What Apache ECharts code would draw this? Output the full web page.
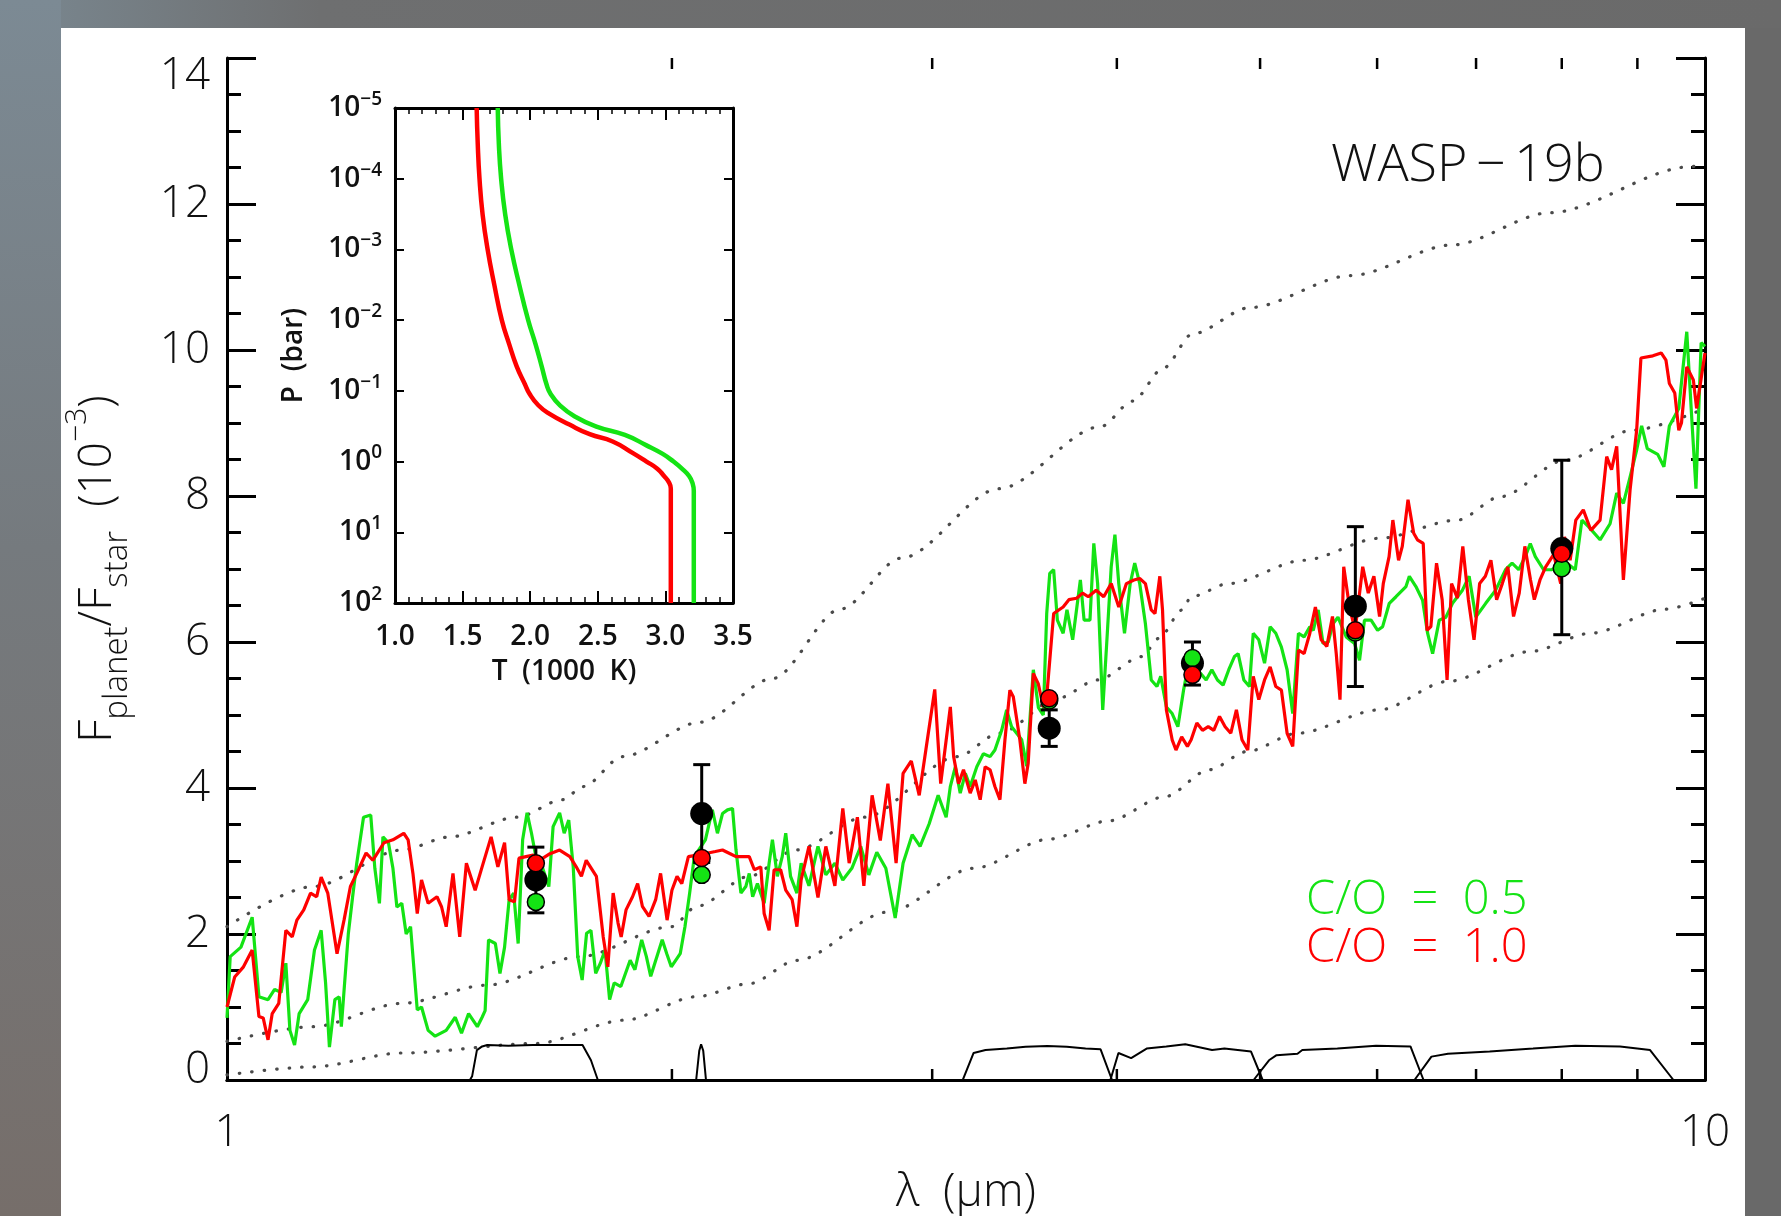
<!DOCTYPE html>
<html>
<head>
<meta charset="utf-8">
<script src="https://cdn.jsdelivr.net/npm/echarts@6/dist/echarts.min.js"></script>
<style>
  html, body { margin: 0; padding: 0; width: 1781px; height: 1216px; overflow: hidden; background: #696969; }
  #topband { position: absolute; left: 0; top: 0; width: 1781px; height: 28px;
    background: linear-gradient(to right, #7a8891 0%, #6e6f70 18%, #6a6a6a 100%); }
  #leftband { position: absolute; left: 0; top: 0; width: 61px; height: 1216px;
    background: linear-gradient(to bottom, #7c8a94 0%, #757a7e 45%, #766e6a 100%); }
  #panel { position: absolute; left: 61px; top: 28px; width: 1684px; height: 1188px; background: #fff; }
  #chart { position: absolute; left: 0; top: 0; width: 1781px; height: 1216px; }
</style>
</head>
<body>
<div id="topband"></div>
<div id="leftband"></div>
<div id="panel"></div>
<div id="chart"></div>
<script>
// ---- data ----
// spectra: [wavelength (um), Fp/Fs (1e-3)]
const greenSpec = [
  [1.000,0.85],[1.005,1.69],[1.022,1.82],[1.040,2.23],[1.051,1.14],[1.066,1.10],[1.077,1.24],[1.088,1.20],
  [1.096,1.60],[1.103,0.68],[1.111,0.48],[1.119,0.91],[1.134,1.10],[1.146,1.78],[1.158,2.05],[1.166,1.33],
  [1.173,0.45],[1.183,1.10],[1.191,1.14],[1.195,0.73],[1.208,2.00],[1.216,2.50],[1.224,2.97],[1.237,3.60],
  [1.251,3.63],[1.259,2.90],[1.268,2.42],[1.275,3.33],[1.286,3.25],[1.295,2.90],[1.303,2.37],[1.313,2.42],
  [1.322,2.00],[1.331,2.10],[1.345,0.96],[1.354,1.00],[1.368,0.68],[1.383,0.60],[1.407,0.68],[1.427,0.86],
  [1.441,0.64],[1.457,0.91],[1.477,0.73],[1.488,0.86],[1.495,0.95],[1.503,1.92],[1.519,1.87],[1.530,1.46],
  [1.541,1.82],[1.552,2.47],[1.563,2.56],[1.574,1.87],[1.585,3.29],[1.596,3.66],[1.607,3.38],[1.620,3.00],
  [1.634,2.92],[1.651,2.65],[1.662,3.47],[1.679,3.66],[1.691,3.38],[1.703,3.56],[1.715,2.92],[1.727,1.69],
  [1.739,1.37],[1.751,2.01],[1.763,2.05],[1.776,1.46],[1.789,1.60],[1.802,1.78],[1.815,1.10],[1.828,1.33],
  [1.847,1.28],[1.874,1.64],[1.888,1.51],[1.908,1.92],[1.922,1.69],[1.935,1.42],[1.970,1.92],[1.984,1.73],
  [1.998,1.55],[2.026,1.73],[2.041,2.10],[2.056,2.56],[2.071,3.06],[2.107,3.29],[2.130,3.70],[2.147,3.38],
  [2.164,3.65],[2.181,3.70],[2.198,3.72],[2.210,3.15],[2.227,2.56],[2.244,2.65],[2.256,2.83],[2.268,2.51],
  [2.285,2.69],[2.309,2.42],[2.327,2.97],[2.339,3.29],[2.357,2.79],[2.375,3.06],[2.388,3.38],[2.406,2.79],
  [2.430,2.56],[2.446,2.97],[2.476,2.66],[2.511,3.20],[2.542,2.81],[2.578,2.97],[2.610,2.74],[2.647,2.90],
  [2.684,3.20],[2.718,2.81],[2.752,3.12],[2.791,2.90],[2.832,2.22],[2.867,2.97],[2.908,3.36],[2.944,3.20],
  [2.986,3.51],[3.028,3.90],[3.066,3.60],[3.086,4.02],[3.110,4.29],[3.134,3.93],[3.159,4.20],[3.183,4.02],
  [3.216,4.29],[3.249,4.47],[3.283,4.43],[3.308,4.52],[3.343,4.79],[3.369,5.07],[3.395,4.84],[3.422,4.75],
  [3.449,4.66],[3.476,4.30],[3.512,5.62],[3.540,5.10],[3.567,5.00],[3.586,6.39],[3.603,6.94],[3.625,6.99],
  [3.646,6.30],[3.679,6.12],[3.701,6.44],[3.734,6.03],[3.779,6.85],[3.801,6.30],[3.836,6.30],[3.859,7.35],
  [3.882,6.80],[3.913,5.07],[3.941,6.12],[3.965,7.03],[3.988,7.47],[4.012,6.80],[4.048,6.12],[4.084,6.80],
  [4.113,7.08],[4.145,6.80],[4.182,6.25],[4.220,5.48],[4.258,5.39],[4.283,5.53],[4.321,5.11],[4.360,5.02],
  [4.399,4.84],[4.438,5.34],[4.477,5.75],[4.517,5.62],[4.557,5.57],[4.597,5.48],[4.638,5.62],[4.679,5.48],
  [4.720,5.41],[4.762,5.62],[4.804,5.80],[4.832,5.84],[4.875,5.48],[4.918,5.39],[4.947,6.12],[4.990,6.03],
  [5.035,5.71],[5.079,6.21],[5.124,6.12],[5.169,5.93],[5.215,5.62],[5.261,5.02],[5.308,6.12],[5.355,6.07],
  [5.403,6.21],[5.432,6.16],[5.474,6.44],[5.515,5.98],[5.560,6.00],[5.601,6.25],[5.645,6.34],[5.718,6.07],
  [5.793,5.98],[5.838,5.75],[5.883,6.30],[5.944,6.30],[6.005,6.16],[6.052,6.21],[6.115,6.53],[6.179,6.62],
  [6.276,6.76],[6.309,6.90],[6.374,6.76],[6.441,6.57],[6.491,6.12],[6.542,5.84],[6.610,6.30],[6.679,6.34],
  [6.748,6.53],[6.853,6.71],[6.925,6.90],[6.997,6.34],[7.106,6.53],[7.217,6.71],[7.329,6.99],[7.404,7.08],
  [7.481,6.99],[7.558,7.17],[7.617,7.35],[7.677,7.17],[7.777,6.99],[7.878,6.99],[8.044,7.10],[8.170,6.99],
  [8.255,7.67],[8.340,7.58],[8.492,7.40],[8.625,7.62],[8.715,8.04],[8.806,7.90],[8.898,8.26],[8.990,8.63],
  [9.060,8.96],[9.140,8.65],[9.290,8.57],[9.380,8.40],[9.460,8.96],[9.600,9.20],[9.720,10.25],[9.800,9.00],
  [9.860,8.10],[9.940,10.10],[10.00,10.05]
]
const redSpec = [
  [1.000,1.00],[1.012,1.41],[1.026,1.55],[1.040,1.78],[1.051,0.87],[1.058,0.85],[1.066,0.55],[1.073,0.91],
  [1.084,1.05],[1.096,2.05],[1.107,1.96],[1.115,2.19],[1.127,2.33],[1.139,2.56],[1.150,2.51],[1.158,2.78],
  [1.170,2.56],[1.187,1.73],[1.200,2.19],[1.212,2.65],[1.224,2.83],[1.242,3.11],[1.255,3.01],[1.277,3.25],
  [1.295,3.29],[1.317,3.38],[1.326,3.29],[1.336,2.83],[1.345,2.28],[1.354,2.74],[1.368,2.42],[1.387,2.51],
  [1.397,2.37],[1.407,2.10],[1.422,2.83],[1.437,1.96],[1.452,2.97],[1.472,2.60],[1.488,2.92],[1.509,3.33],
  [1.525,2.92],[1.541,3.25],[1.552,2.47],[1.565,2.44],[1.576,3.04],[1.611,3.08],[1.630,3.02],[1.654,3.10],
  [1.679,3.15],[1.706,3.06],[1.723,2.92],[1.737,2.79],[1.750,3.01],[1.778,2.79],[1.797,1.96],[1.810,1.55],
  [1.825,2.56],[1.839,2.15],[1.848,1.96],[1.862,2.33],[1.881,2.51],[1.896,2.69],[1.910,2.38],[1.930,2.24],
  [1.950,2.47],[1.965,2.83],[1.985,2.19],[2.000,2.60],[2.016,2.79],[2.031,2.69],[2.052,3.06],[2.080,3.08],
  [2.116,3.11],[2.140,3.13],[2.164,3.15],[2.190,3.10],[2.210,3.06],[2.256,3.06],[2.274,2.88],[2.297,2.92],
  [2.309,2.28],[2.327,2.05],[2.345,2.88],[2.369,2.88],[2.388,2.60],[2.412,2.47],[2.430,2.10],[2.446,2.74],
  [2.476,3.20],[2.511,2.50],[2.542,3.20],[2.578,2.66],[2.610,3.72],[2.636,2.97],[2.670,3.60],[2.697,2.66],
  [2.732,3.90],[2.767,3.28],[2.800,4.06],[2.836,2.97],[2.867,4.20],[2.904,4.37],[2.940,3.90],[2.971,4.53],
  [3.012,5.35],[3.040,4.06],[3.086,5.11],[3.102,4.43],[3.126,4.06],[3.150,4.25],[3.183,3.93],[3.208,4.11],
  [3.233,3.84],[3.258,4.29],[3.283,4.25],[3.308,4.02],[3.334,3.84],[3.360,4.66],[3.386,5.34],[3.404,5.25],
  [3.439,4.66],[3.466,4.06],[3.484,4.34],[3.512,5.57],[3.539,5.43],[3.567,5.11],[3.586,5.25],[3.625,6.39],
  [3.679,6.48],[3.712,6.58],[3.757,6.60],[3.792,6.67],[3.826,6.62],[3.873,6.71],[3.919,6.62],[3.965,6.80],
  [4.012,6.48],[4.060,6.80],[4.108,6.85],[4.145,6.87],[4.182,6.80],[4.220,6.44],[4.245,6.39],[4.277,6.90],
  [4.295,6.44],[4.321,5.07],[4.360,4.66],[4.386,4.52],[4.425,4.70],[4.465,4.57],[4.491,4.66],[4.531,4.89],
  [4.571,4.79],[4.612,4.84],[4.652,4.79],[4.694,4.98],[4.735,4.84],[4.777,4.75],[4.819,5.07],[4.861,4.66],
  [4.905,4.52],[4.947,5.53],[4.990,5.21],[5.035,5.48],[5.079,5.66],[5.124,5.39],[5.169,5.34],[5.215,4.75],
  [5.261,4.57],[5.308,5.89],[5.355,5.84],[5.403,6.12],[5.450,6.48],[5.499,6.03],[5.548,5.94],[5.597,6.35],
  [5.630,5.84],[5.663,5.21],[5.696,7.03],[5.747,6.48],[5.798,6.16],[5.867,7.03],[5.918,6.67],[5.970,6.90],
  [6.023,6.35],[6.058,6.80],[6.113,7.17],[6.149,7.67],[6.204,7.12],[6.240,7.31],[6.296,7.95],[6.352,7.49],
  [6.389,7.40],[6.447,7.35],[6.485,6.16],[6.524,6.21],[6.582,7.08],[6.640,6.58],[6.691,5.48],[6.738,6.80],
  [6.800,6.60],[6.857,7.31],[6.917,6.58],[6.978,6.03],[7.039,6.80],[7.102,6.90],[7.164,7.12],[7.228,6.58],
  [7.292,6.80],[7.356,7.03],[7.421,6.35],[7.487,6.67],[7.553,7.31],[7.620,6.85],[7.665,6.58],[7.733,6.85],
  [7.802,7.03],[7.900,7.20],[7.987,6.80],[8.034,7.44],[8.105,7.12],[8.177,7.67],[8.273,7.81],[8.371,7.53],
  [8.492,7.67],[8.580,8.54],[8.645,8.36],[8.715,8.68],[8.806,6.85],[8.898,8.08],[8.990,8.90],[9.050,9.89],
  [9.220,9.92],[9.340,9.96],[9.410,9.86],[9.460,9.54],[9.540,9.41],[9.600,8.90],[9.640,9.00],[9.720,9.77],
  [9.820,9.59],[9.870,9.20],[10.00,9.96]
]

// dotted blackbody curves
const bbHigh = [[1.0,2.10],[1.143,2.65],[1.313,3.15],[1.415,3.33],[1.571,3.60],[1.687,3.84],[1.742,4.02],
  [1.852,4.43],[2.089,4.90],[2.34,5.50],[2.60,6.45],[2.86,7.15],[3.33,8.10],[3.90,8.95],[4.10,9.30],
  [4.30,9.75],[4.50,10.22],[4.92,10.58],[5.76,11.02],[6.75,11.44],[7.85,11.88],[9.78,12.51],[10.0,12.57]]
const bbMid = [[1.0,0.53],[1.143,0.73],[1.313,1.05],[1.50,1.30],[1.733,1.69],[1.998,2.10],[2.08,2.38],
  [2.256,2.79],[2.425,3.15],[2.70,3.60],[3.12,4.43],[3.33,4.75],[3.65,5.23],[3.88,5.48],[4.16,5.80],
  [4.27,6.05],[4.43,6.44],[4.49,6.62],[4.76,6.80],[5.35,7.12],[6.02,7.42],[6.80,7.67],[7.27,7.99],
  [8.04,8.49],[8.93,8.90],[10.0,9.20]]
const bbLow = [[1.0,0.07],[1.143,0.18],[1.313,0.37],[1.618,0.50],[1.859,0.82],[2.077,1.14],[2.256,1.32],
  [2.43,1.64],[2.80,2.30],[3.20,2.90],[3.60,3.30],[3.95,3.55],[4.31,3.88],[4.62,4.25],[4.90,4.50],
  [5.30,4.75],[6.02,5.07],[6.70,5.46],[7.62,5.87],[8.37,6.12],[9.40,6.45],[10.0,6.60]]

// filter transmission curves at the bottom
const filterH = [[1.460,0],[1.465,0.05],[1.476,0.41],[1.488,0.46],[1.50,0.48],[1.55,0.47],[1.61,0.48],
  [1.68,0.48],[1.74,0.48],[1.763,0.27],[1.782,0]]
const filterKs = [[2.077,0],[2.087,0.40],[2.093,0.49],[2.100,0.40],[2.109,0]]
const filterCh1 = [[3.146,0],[3.20,0.37],[3.26,0.41],[3.37,0.43],[3.47,0.457],[3.59,0.466],[3.70,0.457],
  [3.81,0.43],[3.90,0.42],[3.97,0]]
const filterCh2 = [[3.96,0],[4.01,0.37],[4.09,0.30],[4.19,0.43],[4.32,0.46],[4.45,0.49],[4.64,0.41],
  [4.73,0.43],[4.93,0.39],[5.02,0]]
const filterCh3 = [[4.95,0],[5.07,0.27],[5.13,0.34],[5.30,0.36],[5.34,0.41],[5.64,0.43],[5.99,0.47],
  [6.32,0.46],[6.45,0]]
const filterCh4 = [[6.36,0],[6.53,0.32],[6.70,0.36],[7.15,0.39],[7.65,0.43],[8.17,0.47],[8.76,0.46],
  [9.18,0.41],[9.52,0]]

// observed points and model band averages
const obsLam = [1.618, 2.095, 3.6, 4.5, 5.8, 8.0]
const obsVal = [2.74, 3.65, 4.82, 5.71, 6.49, 7.28]
const obsLo = [2.29, 2.98, 4.57, 5.41, 5.39, 6.10]
const obsHi = [3.19, 4.32, 5.07, 6.00, 7.58, 8.49]
const bandGreen = [2.44, 2.81, 5.20, 5.78, 6.13, 7.01]
const bandRed = [2.97, 3.04, 5.23, 5.55, 6.16, 7.21]

// inset T-P profiles: [T (1000 K), P (bar)]
const tpRed = [[1.604,1e-5],[1.612,3.2e-5],[1.625,1e-4],[1.648,3.2e-4],[1.685,1e-3],[1.735,3.2e-3],[1.79,1e-2],
  [1.845,2.2e-2],[1.90,4.5e-2],[1.96,8e-2],[1.995,0.11],[2.06,0.16],[2.14,0.21],[2.29,0.30],[2.44,0.41],
  [2.61,0.52],[2.76,0.76],[2.86,1.0],[2.94,1.26],[2.99,1.6],[3.025,1.95],[3.04,2.4],[3.04,100]]
const tpGreen = [[1.76,1e-5],[1.768,3.2e-5],[1.785,1e-4],[1.815,3.2e-4],[1.86,1e-3],[1.92,3.2e-3],[1.985,1e-2],
  [2.04,2.2e-2],[2.085,4.5e-2],[2.12,8e-2],[2.15,0.11],[2.22,0.16],[2.33,0.23],[2.49,0.32],[2.70,0.42],
  [2.86,0.59],[2.98,0.78],[3.06,1.0],[3.13,1.3],[3.175,1.6],[3.20,2.0],[3.21,2.6],[3.21,100]]

// wavelength ticks between 1 and 10
const lamTicks = [2, 3, 4, 5, 6, 7, 8, 9]

const FONT = '"Open Sans", "Liberation Sans", Arial, sans-serif'
const LIGHT = 300
const GREEN = '#14e314'
const RED = '#ff0000'

const chart = echarts.init(document.getElementById('chart'), null, { renderer: 'canvas' })

const frameLine = { show: true, lineStyle: { color: '#000', width: 3 } }
const insetLine = { show: true, lineStyle: { color: '#000', width: 3 } }

function lineSeries(data, color, width, extra) {
  return Object.assign({
    type: 'line', data: data, symbol: 'none', silent: true,
    lineStyle: { color: color, width: width }
  }, extra || {})
}
function dottedSeries(data) {
  return lineSeries(data, '#444', 3.5, {
    smooth: 0.3, smoothMonotone: 'x', z: 1,
    lineStyle: { color: '#4a4a4a', width: 3.2, type: [0.5, 12], cap: 'round' }
  })
}
function filterSeries(data) {
  return lineSeries(data, '#000', 2, { z: 2 })
}

const mainLabel = { fontSize: 44, fontWeight: LIGHT, color: '#111', fontFamily: FONT }

const option = {
  animation: false,
  textStyle: { fontFamily: FONT },
  // keep the frames fixed; labels may run to the canvas edge
  grid: [
    { left: 227, top: 58, width: 1478, height: 1022, outerBoundsMode: 'none', containLabel: false },
    { left: 395, top: 108, width: 338, height: 495, outerBoundsMode: 'none', containLabel: false }
  ],
  xAxis: [
    {
      gridIndex: 0, type: 'log', logBase: 10, min: 1, max: 10, position: 'bottom',
      axisLine: frameLine, axisTick: { show: false }, splitLine: { show: false },
      axisLabel: Object.assign({ margin: 31 }, mainLabel),
      name: 'λ  (μm)', nameLocation: 'middle', nameGap: 90,
      nameTextStyle: { fontSize: 46, fontWeight: LIGHT, color: '#111' }
    },
    {
      gridIndex: 0, type: 'log', logBase: 10, min: 1, max: 10, position: 'top',
      axisLine: frameLine, axisTick: { show: false }, axisLabel: { show: false }, splitLine: { show: false }
    },
    {
      gridIndex: 1, type: 'value', min: 1, max: 3.5, interval: 0.5, position: 'bottom',
      axisLine: insetLine,
      axisTick: { show: true, inside: true, length: 12, lineStyle: { color: '#000', width: 2 } },
      minorTick: { show: true, splitNumber: 5, length: 6, lineStyle: { color: '#000', width: 1.5 } },
      splitLine: { show: false },
      axisLabel: { fontSize: 28, fontWeight: 600, color: '#111', margin: 20, formatter: v => v.toFixed(1) },
      name: 'T  (1000  K)', nameLocation: 'middle', nameGap: 55,
      nameTextStyle: { fontSize: 28, fontWeight: 600, color: '#111' }
    },
    {
      gridIndex: 1, type: 'value', min: 1, max: 3.5, interval: 0.5, position: 'top',
      axisLine: insetLine,
      axisTick: { show: true, inside: true, length: 12, lineStyle: { color: '#000', width: 2 } },
      minorTick: { show: true, splitNumber: 5, length: 6, lineStyle: { color: '#000', width: 1.5 } },
      splitLine: { show: false }, axisLabel: { show: false }
    }
  ],
  yAxis: [
    {
      gridIndex: 0, type: 'value', min: 0, max: 14, interval: 2, position: 'left',
      axisLine: frameLine,
      axisTick: { show: true, inside: true, length: 29, lineStyle: { color: '#000', width: 3 } },
      minorTick: { show: true, splitNumber: 4, length: 14, lineStyle: { color: '#000', width: 3 } },
      splitLine: { show: false },
      axisLabel: Object.assign({
        margin: 17,
        // IDL pulls the end labels inside the frame
        formatter: v => v === 0 ? '{lo|0}' : v === 14 ? '{hi|14}' : String(v),
        rich: {
          lo: Object.assign({ padding: [0, 0, 20, 0] }, mainLabel),
          hi: Object.assign({ padding: [36, 0, 0, 0] }, mainLabel)
        }
      }, mainLabel),
      name: 'F{sub|planet}/F{sub|star}  (10{sup|−3})',
      nameLocation: 'middle', nameRotate: 90, nameGap: 93,
      nameTextStyle: {
        fontSize: 46, fontWeight: LIGHT, color: '#111', lineHeight: 72,
        rich: {
          sub: { fontSize: 33, fontWeight: LIGHT, color: '#111', lineHeight: 32, verticalAlign: 'bottom' },
          sup: { fontSize: 30, fontWeight: LIGHT, color: '#111', lineHeight: 32, verticalAlign: 'top' }
        }
      }
    },
    {
      gridIndex: 0, type: 'value', min: 0, max: 14, interval: 2, position: 'right',
      axisLine: frameLine,
      axisTick: { show: true, inside: true, length: 29, lineStyle: { color: '#000', width: 3 } },
      minorTick: { show: true, splitNumber: 4, length: 14, lineStyle: { color: '#000', width: 3 } },
      splitLine: { show: false }, axisLabel: { show: false }
    },
    {
      gridIndex: 1, type: 'log', logBase: 10, min: 1e-5, max: 100, inverse: true, position: 'left',
      axisLine: insetLine,
      axisTick: { show: true, inside: true, length: 9, lineStyle: { color: '#000', width: 2 } },
      splitLine: { show: false },
      axisLabel: {
        fontSize: 28, fontWeight: 600, color: '#111', margin: 13, lineHeight: 36,
        formatter: v => {
          const e = Math.round(Math.log10(v))
          return '10{sup|' + (e < 0 ? '−' + (-e) : e) + '}'
        },
        rich: { sup: { fontSize: 19, fontWeight: 600, color: '#111', lineHeight: 20, verticalAlign: 'top' } }
      },
      name: 'P  (bar)', nameLocation: 'middle', nameRotate: 90, nameGap: 87,
      nameTextStyle: { fontSize: 28, fontWeight: 600, color: '#111' }
    },
    {
      gridIndex: 1, type: 'log', logBase: 10, min: 1e-5, max: 100, inverse: true, position: 'right',
      axisLine: insetLine,
      axisTick: { show: true, inside: true, length: 9, lineStyle: { color: '#000', width: 2 } },
      splitLine: { show: false }, axisLabel: { show: false }
    }
  ],
  series: [
    dottedSeries(bbHigh),
    dottedSeries(bbMid),
    dottedSeries(bbLow),
    filterSeries(filterH),
    filterSeries(filterKs),
    filterSeries(filterCh1),
    filterSeries(filterCh2),
    filterSeries(filterCh3),
    filterSeries(filterCh4),
    lineSeries(greenSpec, GREEN, 3.2, { z: 3 }),
    lineSeries(redSpec, RED, 3.2, { z: 3 }),
    {
      // wavelength tick marks on bottom and top frame
      type: 'custom', silent: true, z: 6,
      data: lamTicks.map(v => [v, 0]),
      renderItem: (params, api) => {
        const lo = api.coord([api.value(0), 0])
        const hi = api.coord([api.value(0), 14])
        const st = { stroke: '#000', lineWidth: 2.5 }
        return {
          type: 'group', children: [
            { type: 'line', shape: { x1: lo[0], y1: lo[1], x2: lo[0], y2: lo[1] - 11 }, style: st },
            { type: 'line', shape: { x1: hi[0], y1: hi[1], x2: hi[0], y2: hi[1] + 11 }, style: st }
          ]
        }
      }
    },
    {
      // error bars
      type: 'custom', silent: true, z: 4,
      data: obsLam.map((l, i) => [l, obsLo[i], obsHi[i]]),
      encode: { x: 0, y: [1, 2] },
      renderItem: (params, api) => {
        const lo = api.coord([api.value(0), api.value(1)])
        const hi = api.coord([api.value(0), api.value(2)])
        const w = 8.5
        const st = { stroke: '#000', lineWidth: 3 }
        return {
          type: 'group', children: [
            { type: 'line', shape: { x1: lo[0], y1: lo[1], x2: hi[0], y2: hi[1] }, style: st },
            { type: 'line', shape: { x1: lo[0] - w, y1: lo[1], x2: lo[0] + w, y2: lo[1] }, style: st },
            { type: 'line', shape: { x1: hi[0] - w, y1: hi[1], x2: hi[0] + w, y2: hi[1] }, style: st }
          ]
        }
      }
    },
    {
      type: 'scatter', silent: true, z: 5, symbolSize: 23,
      data: obsLam.map((l, i) => [l, obsVal[i]]),
      itemStyle: { color: '#000', opacity: 1 }
    },
    {
      type: 'scatter', silent: true, z: 6, symbolSize: 17,
      data: obsLam.map((l, i) => [l, bandGreen[i]]),
      itemStyle: { color: GREEN, borderColor: '#000', borderWidth: 1.5, opacity: 1 }
    },
    {
      type: 'scatter', silent: true, z: 7, symbolSize: 17,
      data: obsLam.map((l, i) => [l, bandRed[i]]),
      itemStyle: { color: RED, borderColor: '#000', borderWidth: 1.5, opacity: 1 }
    },
    lineSeries(tpRed, RED, 4.5, { xAxisIndex: 2, yAxisIndex: 2, smooth: 0.5, z: 3 }),
    lineSeries(tpGreen, GREEN, 4.5, { xAxisIndex: 2, yAxisIndex: 2, smooth: 0.5, z: 3 })
  ],
  graphic: [
    { type: 'text', left: 1331, top: 140, silent: true,
      style: { text: 'WASP\u2009−\u200919b', font: LIGHT + ' 52px ' + FONT, fill: '#111' } },
    { type: 'text', left: 1306, top: 877, silent: true,
      style: { text: 'C/O  =  0.5', font: LIGHT + ' 47px ' + FONT, fill: GREEN } },
    { type: 'text', left: 1306, top: 925, silent: true,
      style: { text: 'C/O  =  1.0', font: LIGHT + ' 47px ' + FONT, fill: RED } }
  ]
}

chart.setOption(option)
</script>
</body>
</html>
